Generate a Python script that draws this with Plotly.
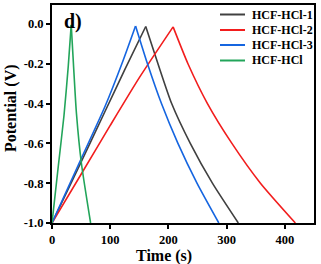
import plotly.graph_objects as go

# Series names and colours
names = ["HCF-HCl-1", "HCF-HCl-2", "HCF-HCl-3", "HCF-HCl"]
colors = ["#404040", "#f21d1d", "#1565e0", "#22a55a"]

# Charge branches (time s, potential V)
charge_t = {
    "HCF-HCl-1": [0, 45, 91, 125, 161],
    "HCF-HCl-2": [0, 50, 100, 150, 208],
    "HCF-HCl-3": [0, 45, 91, 120, 143.5],
    "HCF-HCl":   [0, 11, 20.6, 28, 33],
}
charge_v = {
    "HCF-HCl-1": [-1.0, -0.725, -0.44, -0.23, -0.013],
    "HCF-HCl-2": [-1.0, -0.755, -0.51, -0.27, -0.015],
    "HCF-HCl-3": [-1.0, -0.71, -0.415, -0.2, -0.01],
    "HCF-HCl":   [-1.0, -0.71, -0.46, -0.21, -0.005],
}
# Discharge branches
discharge_t = {
    "HCF-HCl-1": [161, 182, 205.5, 237.5, 275.5, 320],
    "HCF-HCl-2": [208, 233.5, 267, 309, 358, 418],
    "HCF-HCl-3": [143.5, 164, 188, 216.3, 249, 286.5],
    "HCF-HCl":   [33, 36.8, 42, 50.5, 66.3],
}
discharge_v = {
    "HCF-HCl-1": [-0.013, -0.2, -0.4, -0.6, -0.8, -1.0],
    "HCF-HCl-2": [-0.015, -0.2, -0.4, -0.6, -0.8, -1.0],
    "HCF-HCl-3": [-0.01, -0.2, -0.4, -0.6, -0.8, -1.0],
    "HCF-HCl":   [-0.005, -0.2, -0.45, -0.7, -1.0],
}

x_ticks = [0, 100, 200, 300, 400]
y_ticks = [0.0, -0.2, -0.4, -0.6, -0.8, -1.0]
y_ticktext = ["0.0", "-0.2", "-0.4", "-0.6", "-0.8", "-1.0"]

FONT = "Liberation Serif"
L, R, T, B = 52, 7, 5, 41
W, H = 321, 264
PW, PH = W - L - R, H - T - B


def px_x(p):
    return (p - L) / PW


def px_y(p):
    return (H - B - p) / PH


fig = go.Figure()
for name, col in zip(names, colors):
    fig.add_trace(go.Scatter(x=charge_t[name], y=charge_v[name], mode="lines",
                             name=name, legendgroup=name, showlegend=False,
                             line=dict(color=col, width=1.6, shape="spline", smoothing=0.6)))
    fig.add_trace(go.Scatter(x=discharge_t[name], y=discharge_v[name], mode="lines",
                             name=name, legendgroup=name, showlegend=False,
                             line=dict(color=col, width=1.6, shape="spline", smoothing=0.6)))

axis_common = dict(showgrid=False, zeroline=False, showline=True, linecolor="black",
                   linewidth=2, mirror=True, ticks="outside", ticklen=4, tickwidth=1.5,
                   tickcolor="black", automargin=False,
                   tickfont=dict(family=FONT, size=12.5, color="black", weight="bold"))

fig.update_xaxes(range=[0, 450], tickvals=x_ticks, **axis_common)
fig.update_yaxes(range=[-1.0, 0.095], tickvals=y_ticks, ticktext=y_ticktext, **axis_common)

annotations = [
    dict(text="d)", x=px_x(62), y=px_y(22), xref="paper", yref="paper",
         xanchor="left", yanchor="middle", showarrow=False,
         font=dict(family=FONT, size=20, color="black", weight="bold")),
    dict(text="Time (s)", x=px_x(164), y=px_y(256), xref="paper", yref="paper",
         xanchor="center", yanchor="middle", showarrow=False,
         font=dict(family=FONT, size=16, color="black", weight="bold")),
    dict(text="Potential (V)", x=px_x(11), y=px_y(108), xref="paper", yref="paper",
         xanchor="center", yanchor="middle", showarrow=False, textangle=-90,
         font=dict(family=FONT, size=16, color="black", weight="bold")),
]
shapes = []
legend_y = [14.5, 30, 45, 60.5]
for name, col, ly in zip(names, colors, legend_y):
    shapes.append(dict(type="line", xref="paper", yref="paper",
                       x0=px_x(220), x1=px_x(245), y0=px_y(ly), y1=px_y(ly),
                       line=dict(color=col, width=2)))
    annotations.append(dict(text=name, x=px_x(250), y=px_y(ly), xref="paper", yref="paper",
                            xanchor="left", yanchor="middle", showarrow=False,
                            font=dict(family=FONT, size=12, color="black", weight="bold")))

fig.update_layout(
    width=W, height=H,
    margin=dict(l=L, r=R, t=T, b=B),
    paper_bgcolor="white", plot_bgcolor="white",
    font=dict(family=FONT, color="black"),
    showlegend=False,
    annotations=annotations,
    shapes=shapes,
)

fig.write_html("out.html", config={"displayModeBar": False},
               post_script="document.body.style.margin='0';")
